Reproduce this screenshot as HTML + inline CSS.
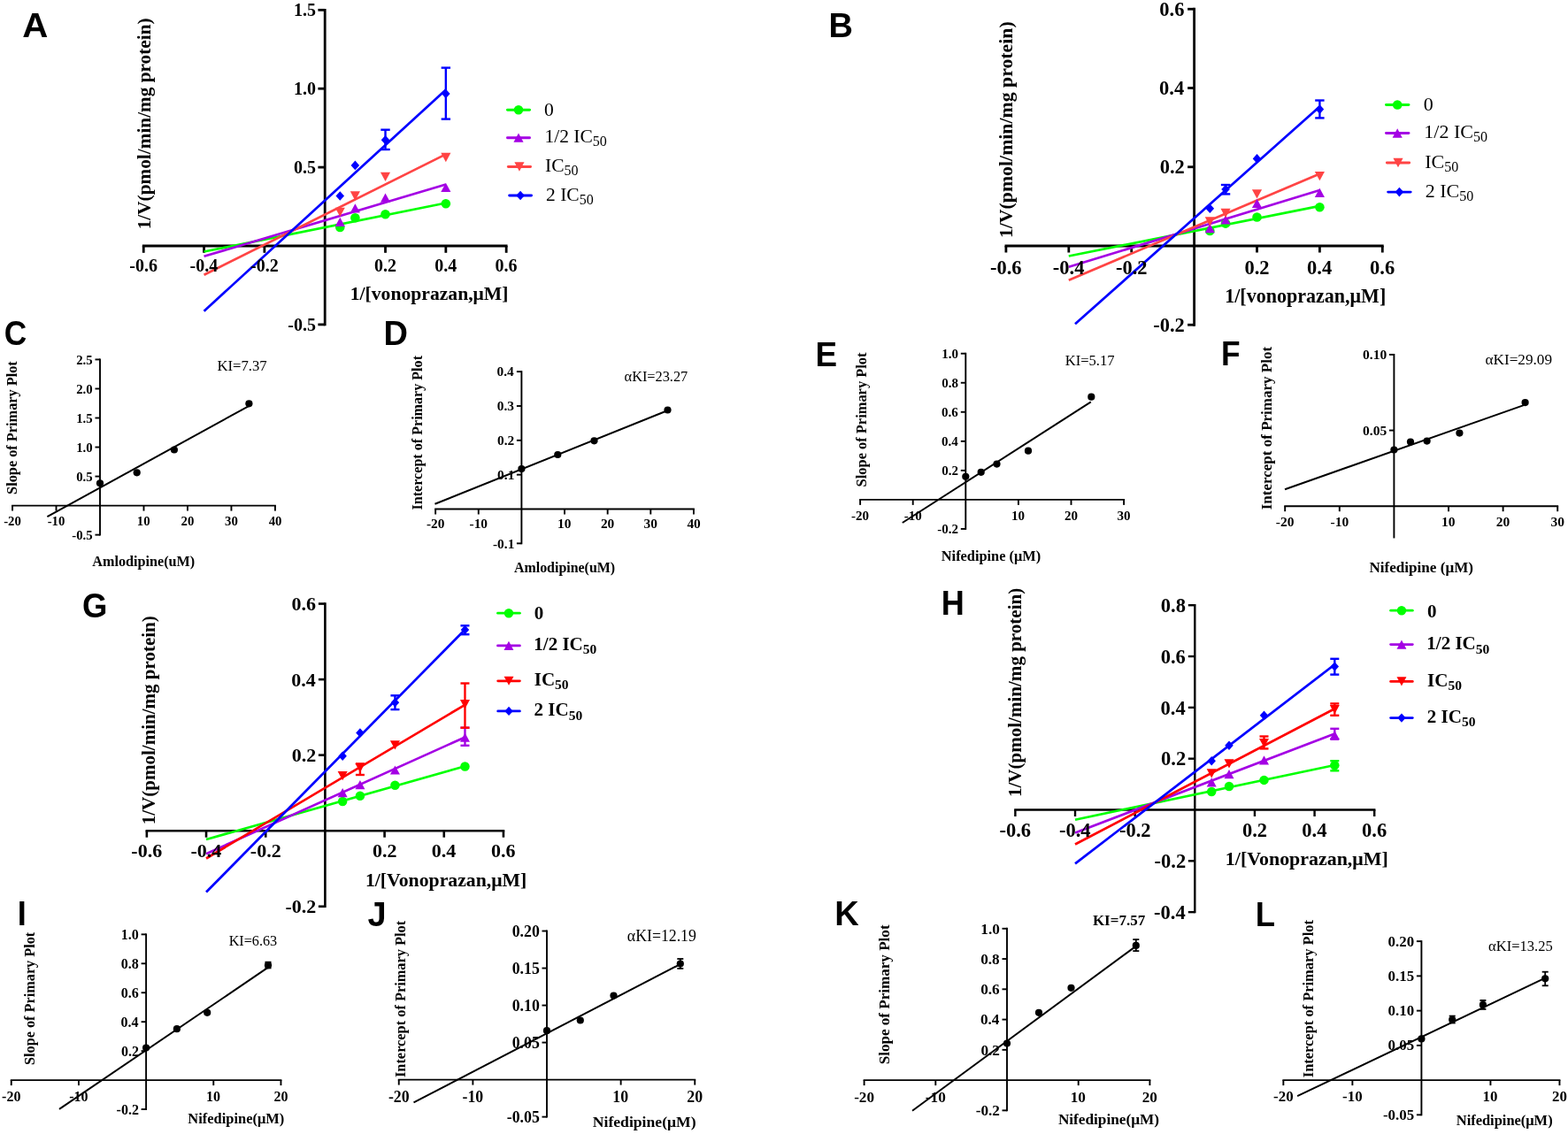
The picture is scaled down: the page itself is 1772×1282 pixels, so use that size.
<!DOCTYPE html>
<html><head><meta charset="utf-8"><title>Figure</title>
<style>html,body{margin:0;padding:0;background:#fff;}svg{display:block;}</style>
</head><body>
<svg width="1772" height="1282" viewBox="0 0 1772 1282">
<rect width="1772" height="1282" fill="#fff"/>
<line x1="160.84" y1="278" x2="573.56" y2="278" stroke="#000" stroke-width="2.8" stroke-linecap="butt"/>
<line x1="367.2" y1="368.3" x2="367.2" y2="9.9" stroke="#000" stroke-width="2.8" stroke-linecap="butt"/>
<line x1="162.24" y1="278" x2="162.24" y2="285.8" stroke="#000" stroke-width="2.8" stroke-linecap="butt"/>
<line x1="230.56" y1="278" x2="230.56" y2="285.8" stroke="#000" stroke-width="2.8" stroke-linecap="butt"/>
<line x1="298.88" y1="278" x2="298.88" y2="285.8" stroke="#000" stroke-width="2.8" stroke-linecap="butt"/>
<line x1="435.52" y1="278" x2="435.52" y2="285.8" stroke="#000" stroke-width="2.8" stroke-linecap="butt"/>
<line x1="503.84" y1="278" x2="503.84" y2="285.8" stroke="#000" stroke-width="2.8" stroke-linecap="butt"/>
<line x1="572.16" y1="278" x2="572.16" y2="285.8" stroke="#000" stroke-width="2.8" stroke-linecap="butt"/>
<line x1="359.4" y1="366.9" x2="367.2" y2="366.9" stroke="#000" stroke-width="2.8" stroke-linecap="butt"/>
<line x1="359.4" y1="189.1" x2="367.2" y2="189.1" stroke="#000" stroke-width="2.8" stroke-linecap="butt"/>
<line x1="359.4" y1="100.2" x2="367.2" y2="100.2" stroke="#000" stroke-width="2.8" stroke-linecap="butt"/>
<line x1="359.4" y1="11.3" x2="367.2" y2="11.3" stroke="#000" stroke-width="2.8" stroke-linecap="butt"/>
<line x1="230.56" y1="284.5" x2="503.84" y2="229.5" stroke="#00ff00" stroke-width="2.7" stroke-linecap="butt"/>
<line x1="230.56" y1="289.8" x2="503.84" y2="208.5" stroke="#a400e4" stroke-width="2.7" stroke-linecap="butt"/>
<line x1="230.56" y1="310.7" x2="503.84" y2="174.4" stroke="#ff4444" stroke-width="2.7" stroke-linecap="butt"/>
<line x1="230.56" y1="351.7" x2="503.84" y2="101.5" stroke="#0000ff" stroke-width="2.7" stroke-linecap="butt"/>
<circle cx="384.28" cy="256.9" r="5.3" fill="#00ff00"/>
<circle cx="401.36" cy="246.3" r="5.3" fill="#00ff00"/>
<circle cx="435.52" cy="242.2" r="5.3" fill="#00ff00"/>
<circle cx="503.84" cy="230.2" r="5.3" fill="#00ff00"/>
<path d="M384.28 245.76L389.84 256.04L378.71 256.04Z" fill="#a400e4"/>
<path d="M401.36 230.16L406.93 240.44L395.8 240.44Z" fill="#a400e4"/>
<path d="M435.52 218.56L441.08 228.84L429.95 228.84Z" fill="#a400e4"/>
<path d="M503.84 206.66L509.41 216.94L498.28 216.94Z" fill="#a400e4"/>
<path d="M384.28 245.04L389.84 234.76L378.71 234.76Z" fill="#ff4444"/>
<path d="M401.36 226.64L406.93 216.36L395.8 216.36Z" fill="#ff4444"/>
<path d="M435.52 205.04L441.08 194.76L429.95 194.76Z" fill="#ff4444"/>
<path d="M503.84 183.14L509.41 172.86L498.28 172.86Z" fill="#ff4444"/>
<path d="M384.28 216.2L389.05 221.5L384.28 226.8L379.51 221.5Z" fill="#0000ff"/>
<path d="M401.36 181.6L406.13 186.9L401.36 192.2L396.59 186.9Z" fill="#0000ff"/>
<path d="M435.52 152.9L440.29 158.2L435.52 163.5L430.75 158.2Z" fill="#0000ff"/>
<path d="M503.84 100.7L508.61 106L503.84 111.3L499.07 106Z" fill="#0000ff"/>
<line x1="435.52" y1="146.7" x2="435.52" y2="169" stroke="#0000ff" stroke-width="2.4" stroke-linecap="butt"/>
<line x1="430.32" y1="146.7" x2="440.72" y2="146.7" stroke="#0000ff" stroke-width="2.4" stroke-linecap="butt"/>
<line x1="430.32" y1="169" x2="440.72" y2="169" stroke="#0000ff" stroke-width="2.4" stroke-linecap="butt"/>
<line x1="503.84" y1="76.6" x2="503.84" y2="134.6" stroke="#0000ff" stroke-width="2.4" stroke-linecap="butt"/>
<line x1="498.64" y1="76.6" x2="509.04" y2="76.6" stroke="#0000ff" stroke-width="2.4" stroke-linecap="butt"/>
<line x1="498.64" y1="134.6" x2="509.04" y2="134.6" stroke="#0000ff" stroke-width="2.4" stroke-linecap="butt"/>
<line x1="573.45" y1="124.2" x2="598.55" y2="124.2" stroke="#00ff00" stroke-width="2.9" stroke-linecap="round"/>
<circle cx="586" cy="124.2" r="5.3" fill="#00ff00"/>
<line x1="573.45" y1="155.7" x2="598.55" y2="155.7" stroke="#a400e4" stroke-width="2.9" stroke-linecap="round"/>
<path d="M586 150.56L591.57 160.84L580.43 160.84Z" fill="#a400e4"/>
<line x1="574.35" y1="188.5" x2="599.55" y2="188.5" stroke="#ff4444" stroke-width="2.9" stroke-linecap="round"/>
<path d="M586.95 193.64L592.52 183.36L581.38 183.36Z" fill="#ff4444"/>
<line x1="575.65" y1="221" x2="600.55" y2="221" stroke="#0000ff" stroke-width="2.9" stroke-linecap="round"/>
<path d="M588.1 215.7L592.87 221L588.1 226.3L583.33 221Z" fill="#0000ff"/>
<line x1="1135.5" y1="278" x2="1563.7" y2="278" stroke="#000" stroke-width="2.8" stroke-linecap="butt"/>
<line x1="1349.6" y1="368.65" x2="1349.6" y2="8.85" stroke="#000" stroke-width="2.8" stroke-linecap="butt"/>
<line x1="1136.9" y1="278" x2="1136.9" y2="285.5" stroke="#000" stroke-width="2.8" stroke-linecap="butt"/>
<line x1="1207.8" y1="278" x2="1207.8" y2="285.5" stroke="#000" stroke-width="2.8" stroke-linecap="butt"/>
<line x1="1278.7" y1="278" x2="1278.7" y2="285.5" stroke="#000" stroke-width="2.8" stroke-linecap="butt"/>
<line x1="1420.5" y1="278" x2="1420.5" y2="285.5" stroke="#000" stroke-width="2.8" stroke-linecap="butt"/>
<line x1="1491.4" y1="278" x2="1491.4" y2="285.5" stroke="#000" stroke-width="2.8" stroke-linecap="butt"/>
<line x1="1562.3" y1="278" x2="1562.3" y2="285.5" stroke="#000" stroke-width="2.8" stroke-linecap="butt"/>
<line x1="1342.1" y1="367.25" x2="1349.6" y2="367.25" stroke="#000" stroke-width="2.8" stroke-linecap="butt"/>
<line x1="1342.1" y1="188.75" x2="1349.6" y2="188.75" stroke="#000" stroke-width="2.8" stroke-linecap="butt"/>
<line x1="1342.1" y1="99.5" x2="1349.6" y2="99.5" stroke="#000" stroke-width="2.8" stroke-linecap="butt"/>
<line x1="1342.1" y1="10.25" x2="1349.6" y2="10.25" stroke="#000" stroke-width="2.8" stroke-linecap="butt"/>
<line x1="1207.8" y1="289.5" x2="1491.4" y2="232.9" stroke="#00ff00" stroke-width="2.7" stroke-linecap="butt"/>
<line x1="1207.8" y1="301.8" x2="1491.4" y2="215" stroke="#a400e4" stroke-width="2.7" stroke-linecap="butt"/>
<line x1="1207.8" y1="316.8" x2="1491.4" y2="196.4" stroke="#ff4444" stroke-width="2.7" stroke-linecap="butt"/>
<line x1="1215" y1="366.3" x2="1491.4" y2="120.6" stroke="#0000ff" stroke-width="2.7" stroke-linecap="butt"/>
<circle cx="1367.32" cy="260.9" r="5.3" fill="#00ff00"/>
<circle cx="1385.05" cy="252.6" r="5.3" fill="#00ff00"/>
<circle cx="1420.5" cy="245.5" r="5.3" fill="#00ff00"/>
<circle cx="1491.4" cy="234.2" r="5.3" fill="#00ff00"/>
<path d="M1367.32 252.86L1372.89 263.14L1361.76 263.14Z" fill="#a400e4"/>
<path d="M1385.05 243.26L1390.62 253.54L1379.48 253.54Z" fill="#a400e4"/>
<path d="M1420.5 224.66L1426.07 234.94L1414.93 234.94Z" fill="#a400e4"/>
<path d="M1491.4 212.76L1496.96 223.04L1485.83 223.04Z" fill="#a400e4"/>
<path d="M1367.32 255.64L1372.89 245.36L1361.76 245.36Z" fill="#ff4444"/>
<path d="M1385.05 246.14L1390.62 235.86L1379.48 235.86Z" fill="#ff4444"/>
<path d="M1420.5 224.44L1426.07 214.16L1414.93 214.16Z" fill="#ff4444"/>
<path d="M1491.4 204.34L1496.96 194.06L1485.83 194.06Z" fill="#ff4444"/>
<path d="M1367.32 230.4L1372.09 235.7L1367.32 241L1362.55 235.7Z" fill="#0000ff"/>
<path d="M1385.05 208.7L1389.82 214L1385.05 219.3L1380.28 214Z" fill="#0000ff"/>
<path d="M1420.5 174.1L1425.27 179.4L1420.5 184.7L1415.73 179.4Z" fill="#0000ff"/>
<path d="M1491.4 118.3L1496.17 123.6L1491.4 128.9L1486.63 123.6Z" fill="#0000ff"/>
<line x1="1385.05" y1="209" x2="1385.05" y2="219.4" stroke="#0000ff" stroke-width="2.4" stroke-linecap="butt"/>
<line x1="1379.85" y1="209" x2="1390.25" y2="209" stroke="#0000ff" stroke-width="2.4" stroke-linecap="butt"/>
<line x1="1379.85" y1="219.4" x2="1390.25" y2="219.4" stroke="#0000ff" stroke-width="2.4" stroke-linecap="butt"/>
<line x1="1491.4" y1="113.5" x2="1491.4" y2="133.4" stroke="#0000ff" stroke-width="2.4" stroke-linecap="butt"/>
<line x1="1486.2" y1="113.5" x2="1496.6" y2="113.5" stroke="#0000ff" stroke-width="2.4" stroke-linecap="butt"/>
<line x1="1486.2" y1="133.4" x2="1496.6" y2="133.4" stroke="#0000ff" stroke-width="2.4" stroke-linecap="butt"/>
<line x1="1566.45" y1="118.5" x2="1591.95" y2="118.5" stroke="#00ff00" stroke-width="2.9" stroke-linecap="round"/>
<circle cx="1579.2" cy="118.5" r="5.3" fill="#00ff00"/>
<line x1="1566.45" y1="150.5" x2="1591.95" y2="150.5" stroke="#a400e4" stroke-width="2.9" stroke-linecap="round"/>
<path d="M1579.2 145.36L1584.77 155.64L1573.63 155.64Z" fill="#a400e4"/>
<line x1="1567.35" y1="184" x2="1592.65" y2="184" stroke="#ff4444" stroke-width="2.9" stroke-linecap="round"/>
<path d="M1580 189.14L1585.57 178.86L1574.43 178.86Z" fill="#ff4444"/>
<line x1="1568.65" y1="217.1" x2="1594.15" y2="217.1" stroke="#0000ff" stroke-width="2.9" stroke-linecap="round"/>
<path d="M1581.4 211.8L1586.17 217.1L1581.4 222.4L1576.63 217.1Z" fill="#0000ff"/>
<line x1="164.56" y1="939.2" x2="570.24" y2="939.2" stroke="#000" stroke-width="2.6" stroke-linecap="butt"/>
<line x1="367.4" y1="1026.05" x2="367.4" y2="681.25" stroke="#000" stroke-width="2.6" stroke-linecap="butt"/>
<line x1="165.86" y1="939.2" x2="165.86" y2="946.7" stroke="#000" stroke-width="2.6" stroke-linecap="butt"/>
<line x1="233.04" y1="939.2" x2="233.04" y2="946.7" stroke="#000" stroke-width="2.6" stroke-linecap="butt"/>
<line x1="300.22" y1="939.2" x2="300.22" y2="946.7" stroke="#000" stroke-width="2.6" stroke-linecap="butt"/>
<line x1="434.58" y1="939.2" x2="434.58" y2="946.7" stroke="#000" stroke-width="2.6" stroke-linecap="butt"/>
<line x1="501.76" y1="939.2" x2="501.76" y2="946.7" stroke="#000" stroke-width="2.6" stroke-linecap="butt"/>
<line x1="568.94" y1="939.2" x2="568.94" y2="946.7" stroke="#000" stroke-width="2.6" stroke-linecap="butt"/>
<line x1="359.9" y1="1024.75" x2="367.4" y2="1024.75" stroke="#000" stroke-width="2.6" stroke-linecap="butt"/>
<line x1="359.9" y1="853.65" x2="367.4" y2="853.65" stroke="#000" stroke-width="2.6" stroke-linecap="butt"/>
<line x1="359.9" y1="768.1" x2="367.4" y2="768.1" stroke="#000" stroke-width="2.6" stroke-linecap="butt"/>
<line x1="359.9" y1="682.55" x2="367.4" y2="682.55" stroke="#000" stroke-width="2.6" stroke-linecap="butt"/>
<line x1="233.04" y1="949" x2="525.47" y2="866.2" stroke="#00ff00" stroke-width="2.7" stroke-linecap="butt"/>
<line x1="233.04" y1="965.3" x2="525.47" y2="833.4" stroke="#a400e4" stroke-width="2.7" stroke-linecap="butt"/>
<line x1="233.04" y1="970.5" x2="525.47" y2="796.8" stroke="#ff0000" stroke-width="2.7" stroke-linecap="butt"/>
<line x1="233.04" y1="1008.5" x2="525.47" y2="711.8" stroke="#0000ff" stroke-width="2.7" stroke-linecap="butt"/>
<circle cx="387.16" cy="906" r="5.25" fill="#00ff00"/>
<circle cx="406.92" cy="899.7" r="5.25" fill="#00ff00"/>
<circle cx="446.44" cy="887.8" r="5.25" fill="#00ff00"/>
<circle cx="525.47" cy="866.5" r="5.25" fill="#00ff00"/>
<path d="M387.16 891.01L392.67 901.19L381.65 901.19Z" fill="#a400e4"/>
<path d="M406.92 882.01L412.43 892.19L401.41 892.19Z" fill="#a400e4"/>
<path d="M446.44 865.41L451.95 875.59L440.92 875.59Z" fill="#a400e4"/>
<path d="M525.47 828.61L530.98 838.79L519.96 838.79Z" fill="#a400e4"/>
<line x1="525.47" y1="822.7" x2="525.47" y2="842.8" stroke="#a400e4" stroke-width="2.4" stroke-linecap="butt"/>
<line x1="520.47" y1="822.7" x2="530.47" y2="822.7" stroke="#a400e4" stroke-width="2.4" stroke-linecap="butt"/>
<line x1="520.47" y1="842.8" x2="530.47" y2="842.8" stroke="#a400e4" stroke-width="2.4" stroke-linecap="butt"/>
<path d="M387.16 882.29L392.67 872.11L381.65 872.11Z" fill="#ff0000"/>
<path d="M406.92 873.19L412.43 863.01L401.41 863.01Z" fill="#ff0000"/>
<path d="M446.44 847.49L451.95 837.31L440.92 837.31Z" fill="#ff0000"/>
<path d="M525.47 801.29L530.98 791.11L519.96 791.11Z" fill="#ff0000"/>
<line x1="406.92" y1="863.4" x2="406.92" y2="876" stroke="#ff0000" stroke-width="2.4" stroke-linecap="butt"/>
<line x1="401.92" y1="863.4" x2="411.92" y2="863.4" stroke="#ff0000" stroke-width="2.4" stroke-linecap="butt"/>
<line x1="401.92" y1="876" x2="411.92" y2="876" stroke="#ff0000" stroke-width="2.4" stroke-linecap="butt"/>
<line x1="525.47" y1="772.5" x2="525.47" y2="822.7" stroke="#ff0000" stroke-width="2.4" stroke-linecap="butt"/>
<line x1="520.47" y1="772.5" x2="530.47" y2="772.5" stroke="#ff0000" stroke-width="2.4" stroke-linecap="butt"/>
<line x1="520.47" y1="822.7" x2="530.47" y2="822.7" stroke="#ff0000" stroke-width="2.4" stroke-linecap="butt"/>
<path d="M387.16 849.45L391.88 854.7L387.16 859.95L382.43 854.7Z" fill="#0000ff"/>
<path d="M406.92 823.35L411.64 828.6L406.92 833.85L402.19 828.6Z" fill="#0000ff"/>
<path d="M446.44 788.95L451.16 794.2L446.44 799.45L441.71 794.2Z" fill="#0000ff"/>
<path d="M525.47 706.75L530.2 712L525.47 717.25L520.75 712Z" fill="#0000ff"/>
<line x1="446.44" y1="786.3" x2="446.44" y2="802.1" stroke="#0000ff" stroke-width="2.4" stroke-linecap="butt"/>
<line x1="441.44" y1="786.3" x2="451.44" y2="786.3" stroke="#0000ff" stroke-width="2.4" stroke-linecap="butt"/>
<line x1="441.44" y1="802.1" x2="451.44" y2="802.1" stroke="#0000ff" stroke-width="2.4" stroke-linecap="butt"/>
<line x1="525.47" y1="707.3" x2="525.47" y2="717.2" stroke="#0000ff" stroke-width="2.4" stroke-linecap="butt"/>
<line x1="520.47" y1="707.3" x2="530.47" y2="707.3" stroke="#0000ff" stroke-width="2.4" stroke-linecap="butt"/>
<line x1="520.47" y1="717.2" x2="530.47" y2="717.2" stroke="#0000ff" stroke-width="2.4" stroke-linecap="butt"/>
<line x1="562.5" y1="693.2" x2="587.4" y2="693.2" stroke="#00ff00" stroke-width="2.8" stroke-linecap="round"/>
<circle cx="574.95" cy="693.2" r="5.2" fill="#00ff00"/>
<line x1="562.5" y1="729.9" x2="587.4" y2="729.9" stroke="#a400e4" stroke-width="2.8" stroke-linecap="round"/>
<path d="M574.95 724.86L580.41 734.94L569.49 734.94Z" fill="#a400e4"/>
<line x1="562.7" y1="769.8" x2="587.4" y2="769.8" stroke="#ff0000" stroke-width="2.8" stroke-linecap="round"/>
<path d="M575.05 774.84L580.51 764.76L569.59 764.76Z" fill="#ff0000"/>
<line x1="562.7" y1="803.9" x2="587.4" y2="803.9" stroke="#0000ff" stroke-width="2.8" stroke-linecap="round"/>
<path d="M575.05 798.7L579.73 803.9L575.05 809.1L570.37 803.9Z" fill="#0000ff"/>
<line x1="1146.18" y1="915.5" x2="1554.42" y2="915.5" stroke="#000" stroke-width="2.4" stroke-linecap="butt"/>
<line x1="1350.3" y1="1032.34" x2="1350.3" y2="683.02" stroke="#000" stroke-width="2.4" stroke-linecap="butt"/>
<line x1="1147.38" y1="915.5" x2="1147.38" y2="923" stroke="#000" stroke-width="2.4" stroke-linecap="butt"/>
<line x1="1215.02" y1="915.5" x2="1215.02" y2="923" stroke="#000" stroke-width="2.4" stroke-linecap="butt"/>
<line x1="1282.66" y1="915.5" x2="1282.66" y2="923" stroke="#000" stroke-width="2.4" stroke-linecap="butt"/>
<line x1="1417.94" y1="915.5" x2="1417.94" y2="923" stroke="#000" stroke-width="2.4" stroke-linecap="butt"/>
<line x1="1485.58" y1="915.5" x2="1485.58" y2="923" stroke="#000" stroke-width="2.4" stroke-linecap="butt"/>
<line x1="1553.22" y1="915.5" x2="1553.22" y2="923" stroke="#000" stroke-width="2.4" stroke-linecap="butt"/>
<line x1="1342.8" y1="1031.14" x2="1350.3" y2="1031.14" stroke="#000" stroke-width="2.4" stroke-linecap="butt"/>
<line x1="1342.8" y1="973.32" x2="1350.3" y2="973.32" stroke="#000" stroke-width="2.4" stroke-linecap="butt"/>
<line x1="1342.8" y1="857.68" x2="1350.3" y2="857.68" stroke="#000" stroke-width="2.4" stroke-linecap="butt"/>
<line x1="1342.8" y1="799.86" x2="1350.3" y2="799.86" stroke="#000" stroke-width="2.4" stroke-linecap="butt"/>
<line x1="1342.8" y1="742.04" x2="1350.3" y2="742.04" stroke="#000" stroke-width="2.4" stroke-linecap="butt"/>
<line x1="1342.8" y1="684.22" x2="1350.3" y2="684.22" stroke="#000" stroke-width="2.4" stroke-linecap="butt"/>
<line x1="1215.02" y1="926.7" x2="1508.3" y2="865" stroke="#00ff00" stroke-width="2.7" stroke-linecap="butt"/>
<line x1="1215.02" y1="941.5" x2="1508.3" y2="829.5" stroke="#a400e4" stroke-width="2.7" stroke-linecap="butt"/>
<line x1="1215.02" y1="954.5" x2="1508.3" y2="801.2" stroke="#ff0000" stroke-width="2.7" stroke-linecap="butt"/>
<line x1="1215.02" y1="976.4" x2="1508.3" y2="751.3" stroke="#0000ff" stroke-width="2.7" stroke-linecap="butt"/>
<circle cx="1369.2" cy="895" r="5.25" fill="#00ff00"/>
<circle cx="1389" cy="889" r="5.25" fill="#00ff00"/>
<circle cx="1428.5" cy="881.9" r="5.25" fill="#00ff00"/>
<circle cx="1508.3" cy="865.3" r="5.25" fill="#00ff00"/>
<line x1="1508.3" y1="860.2" x2="1508.3" y2="871.3" stroke="#00ff00" stroke-width="2.4" stroke-linecap="butt"/>
<line x1="1503.3" y1="860.2" x2="1513.3" y2="860.2" stroke="#00ff00" stroke-width="2.4" stroke-linecap="butt"/>
<line x1="1503.3" y1="871.3" x2="1513.3" y2="871.3" stroke="#00ff00" stroke-width="2.4" stroke-linecap="butt"/>
<path d="M1369.2 879.21L1374.71 889.39L1363.69 889.39Z" fill="#a400e4"/>
<path d="M1389 870.11L1394.51 880.29L1383.49 880.29Z" fill="#a400e4"/>
<path d="M1428.5 854.31L1434.01 864.49L1422.99 864.49Z" fill="#a400e4"/>
<path d="M1508.3 825.91L1513.81 836.09L1502.79 836.09Z" fill="#a400e4"/>
<line x1="1508.3" y1="823.8" x2="1508.3" y2="835.7" stroke="#a400e4" stroke-width="2.4" stroke-linecap="butt"/>
<line x1="1503.3" y1="823.8" x2="1513.3" y2="823.8" stroke="#a400e4" stroke-width="2.4" stroke-linecap="butt"/>
<line x1="1503.3" y1="835.7" x2="1513.3" y2="835.7" stroke="#a400e4" stroke-width="2.4" stroke-linecap="butt"/>
<path d="M1369.2 879.49L1374.71 869.31L1363.69 869.31Z" fill="#ff0000"/>
<path d="M1389 868.49L1394.51 858.31L1383.49 858.31Z" fill="#ff0000"/>
<path d="M1428.5 845.09L1434.01 834.91L1422.99 834.91Z" fill="#ff0000"/>
<path d="M1508.3 807.19L1513.81 797.01L1502.79 797.01Z" fill="#ff0000"/>
<line x1="1428.5" y1="832.5" x2="1428.5" y2="846.4" stroke="#ff0000" stroke-width="2.4" stroke-linecap="butt"/>
<line x1="1423.5" y1="832.5" x2="1433.5" y2="832.5" stroke="#ff0000" stroke-width="2.4" stroke-linecap="butt"/>
<line x1="1423.5" y1="846.4" x2="1433.5" y2="846.4" stroke="#ff0000" stroke-width="2.4" stroke-linecap="butt"/>
<line x1="1508.3" y1="795.4" x2="1508.3" y2="808.8" stroke="#ff0000" stroke-width="2.4" stroke-linecap="butt"/>
<line x1="1503.3" y1="795.4" x2="1513.3" y2="795.4" stroke="#ff0000" stroke-width="2.4" stroke-linecap="butt"/>
<line x1="1503.3" y1="808.8" x2="1513.3" y2="808.8" stroke="#ff0000" stroke-width="2.4" stroke-linecap="butt"/>
<path d="M1369.2 854.95L1373.92 860.2L1369.2 865.45L1364.48 860.2Z" fill="#0000ff"/>
<path d="M1389 837.55L1393.72 842.8L1389 848.05L1384.28 842.8Z" fill="#0000ff"/>
<path d="M1428.5 803.55L1433.22 808.8L1428.5 814.05L1423.78 808.8Z" fill="#0000ff"/>
<path d="M1508.3 748.25L1513.02 753.5L1508.3 758.75L1503.58 753.5Z" fill="#0000ff"/>
<line x1="1508.3" y1="744.8" x2="1508.3" y2="762.6" stroke="#0000ff" stroke-width="2.4" stroke-linecap="butt"/>
<line x1="1503.3" y1="744.8" x2="1513.3" y2="744.8" stroke="#0000ff" stroke-width="2.4" stroke-linecap="butt"/>
<line x1="1503.3" y1="762.6" x2="1513.3" y2="762.6" stroke="#0000ff" stroke-width="2.4" stroke-linecap="butt"/>
<line x1="1571.6" y1="690.2" x2="1596.3" y2="690.2" stroke="#00ff00" stroke-width="2.8" stroke-linecap="round"/>
<circle cx="1583.95" cy="690.2" r="5.2" fill="#00ff00"/>
<line x1="1571.6" y1="728.6" x2="1596.3" y2="728.6" stroke="#a400e4" stroke-width="2.8" stroke-linecap="round"/>
<path d="M1583.95 723.56L1589.41 733.64L1578.49 733.64Z" fill="#a400e4"/>
<line x1="1571.6" y1="770.4" x2="1596.3" y2="770.4" stroke="#ff0000" stroke-width="2.8" stroke-linecap="round"/>
<path d="M1583.95 775.44L1589.41 765.36L1578.49 765.36Z" fill="#ff0000"/>
<line x1="1571.6" y1="811.6" x2="1596.3" y2="811.6" stroke="#0000ff" stroke-width="2.8" stroke-linecap="round"/>
<path d="M1583.95 806.4L1588.63 811.6L1583.95 816.8L1579.27 811.6Z" fill="#0000ff"/>
<line x1="13.09" y1="571.6" x2="311.87" y2="571.6" stroke="#000" stroke-width="1.9" stroke-linecap="butt"/>
<line x1="113" y1="605.59" x2="113" y2="405.48" stroke="#000" stroke-width="1.9" stroke-linecap="butt"/>
<line x1="14.04" y1="571.6" x2="14.04" y2="577.6" stroke="#000" stroke-width="1.9" stroke-linecap="butt"/>
<line x1="63.52" y1="571.6" x2="63.52" y2="577.6" stroke="#000" stroke-width="1.9" stroke-linecap="butt"/>
<line x1="162.48" y1="571.6" x2="162.48" y2="577.6" stroke="#000" stroke-width="1.9" stroke-linecap="butt"/>
<line x1="211.96" y1="571.6" x2="211.96" y2="577.6" stroke="#000" stroke-width="1.9" stroke-linecap="butt"/>
<line x1="261.44" y1="571.6" x2="261.44" y2="577.6" stroke="#000" stroke-width="1.9" stroke-linecap="butt"/>
<line x1="310.92" y1="571.6" x2="310.92" y2="577.6" stroke="#000" stroke-width="1.9" stroke-linecap="butt"/>
<line x1="107.5" y1="604.63" x2="113" y2="604.63" stroke="#000" stroke-width="1.9" stroke-linecap="butt"/>
<line x1="107.5" y1="538.57" x2="113" y2="538.57" stroke="#000" stroke-width="1.9" stroke-linecap="butt"/>
<line x1="107.5" y1="505.53" x2="113" y2="505.53" stroke="#000" stroke-width="1.9" stroke-linecap="butt"/>
<line x1="107.5" y1="472.5" x2="113" y2="472.5" stroke="#000" stroke-width="1.9" stroke-linecap="butt"/>
<line x1="107.5" y1="439.46" x2="113" y2="439.46" stroke="#000" stroke-width="1.9" stroke-linecap="butt"/>
<line x1="107.5" y1="406.43" x2="113" y2="406.43" stroke="#000" stroke-width="1.9" stroke-linecap="butt"/>
<line x1="53.4" y1="584.2" x2="280.6" y2="459.3" stroke="#000" stroke-width="2" stroke-linecap="butt"/>
<circle cx="113" cy="546.3" r="4.1" fill="#000"/>
<circle cx="154.7" cy="534.3" r="4.1" fill="#000"/>
<circle cx="196.9" cy="508.5" r="4.1" fill="#000"/>
<circle cx="281.4" cy="456.3" r="4.1" fill="#000"/>
<line x1="491.19" y1="575.5" x2="784.87" y2="575.5" stroke="#000" stroke-width="1.9" stroke-linecap="butt"/>
<line x1="589.4" y1="615.29" x2="589.4" y2="419.19" stroke="#000" stroke-width="1.9" stroke-linecap="butt"/>
<line x1="492.14" y1="575.5" x2="492.14" y2="581.5" stroke="#000" stroke-width="1.9" stroke-linecap="butt"/>
<line x1="540.77" y1="575.5" x2="540.77" y2="581.5" stroke="#000" stroke-width="1.9" stroke-linecap="butt"/>
<line x1="638.03" y1="575.5" x2="638.03" y2="581.5" stroke="#000" stroke-width="1.9" stroke-linecap="butt"/>
<line x1="686.66" y1="575.5" x2="686.66" y2="581.5" stroke="#000" stroke-width="1.9" stroke-linecap="butt"/>
<line x1="735.29" y1="575.5" x2="735.29" y2="581.5" stroke="#000" stroke-width="1.9" stroke-linecap="butt"/>
<line x1="783.92" y1="575.5" x2="783.92" y2="581.5" stroke="#000" stroke-width="1.9" stroke-linecap="butt"/>
<line x1="583.9" y1="614.34" x2="589.4" y2="614.34" stroke="#000" stroke-width="1.9" stroke-linecap="butt"/>
<line x1="583.9" y1="536.66" x2="589.4" y2="536.66" stroke="#000" stroke-width="1.9" stroke-linecap="butt"/>
<line x1="583.9" y1="497.82" x2="589.4" y2="497.82" stroke="#000" stroke-width="1.9" stroke-linecap="butt"/>
<line x1="583.9" y1="458.98" x2="589.4" y2="458.98" stroke="#000" stroke-width="1.9" stroke-linecap="butt"/>
<line x1="583.9" y1="420.14" x2="589.4" y2="420.14" stroke="#000" stroke-width="1.9" stroke-linecap="butt"/>
<line x1="491.5" y1="569.8" x2="754" y2="464.3" stroke="#000" stroke-width="2" stroke-linecap="butt"/>
<circle cx="589.4" cy="530.1" r="4.1" fill="#000"/>
<circle cx="630.3" cy="514" r="4.1" fill="#000"/>
<circle cx="671.5" cy="498.3" r="4.1" fill="#000"/>
<circle cx="754.5" cy="463.5" r="4.1" fill="#000"/>
<line x1="971.15" y1="564.9" x2="1271.05" y2="564.9" stroke="#000" stroke-width="1.9" stroke-linecap="butt"/>
<line x1="1091.3" y1="598.89" x2="1091.3" y2="398.75" stroke="#000" stroke-width="1.9" stroke-linecap="butt"/>
<line x1="972.1" y1="564.9" x2="972.1" y2="570.9" stroke="#000" stroke-width="1.9" stroke-linecap="butt"/>
<line x1="1031.7" y1="564.9" x2="1031.7" y2="570.9" stroke="#000" stroke-width="1.9" stroke-linecap="butt"/>
<line x1="1150.9" y1="564.9" x2="1150.9" y2="570.9" stroke="#000" stroke-width="1.9" stroke-linecap="butt"/>
<line x1="1210.5" y1="564.9" x2="1210.5" y2="570.9" stroke="#000" stroke-width="1.9" stroke-linecap="butt"/>
<line x1="1270.1" y1="564.9" x2="1270.1" y2="570.9" stroke="#000" stroke-width="1.9" stroke-linecap="butt"/>
<line x1="1085.8" y1="597.94" x2="1091.3" y2="597.94" stroke="#000" stroke-width="1.9" stroke-linecap="butt"/>
<line x1="1085.8" y1="531.86" x2="1091.3" y2="531.86" stroke="#000" stroke-width="1.9" stroke-linecap="butt"/>
<line x1="1085.8" y1="498.82" x2="1091.3" y2="498.82" stroke="#000" stroke-width="1.9" stroke-linecap="butt"/>
<line x1="1085.8" y1="465.78" x2="1091.3" y2="465.78" stroke="#000" stroke-width="1.9" stroke-linecap="butt"/>
<line x1="1085.8" y1="432.74" x2="1091.3" y2="432.74" stroke="#000" stroke-width="1.9" stroke-linecap="butt"/>
<line x1="1085.8" y1="399.7" x2="1091.3" y2="399.7" stroke="#000" stroke-width="1.9" stroke-linecap="butt"/>
<line x1="1019.8" y1="591" x2="1232.8" y2="454.4" stroke="#000" stroke-width="2" stroke-linecap="butt"/>
<circle cx="1091.3" cy="538.8" r="4.1" fill="#000"/>
<circle cx="1108.7" cy="533.8" r="4.1" fill="#000"/>
<circle cx="1126.5" cy="524.6" r="4.1" fill="#000"/>
<circle cx="1162" cy="509.7" r="4.1" fill="#000"/>
<circle cx="1233.3" cy="448.7" r="4.1" fill="#000"/>
<line x1="1451.25" y1="572.2" x2="1761.15" y2="572.2" stroke="#000" stroke-width="1.9" stroke-linecap="butt"/>
<line x1="1575.4" y1="608.44" x2="1575.4" y2="399.95" stroke="#000" stroke-width="1.9" stroke-linecap="butt"/>
<line x1="1452.2" y1="572.2" x2="1452.2" y2="578.2" stroke="#000" stroke-width="1.9" stroke-linecap="butt"/>
<line x1="1513.8" y1="572.2" x2="1513.8" y2="578.2" stroke="#000" stroke-width="1.9" stroke-linecap="butt"/>
<line x1="1637" y1="572.2" x2="1637" y2="578.2" stroke="#000" stroke-width="1.9" stroke-linecap="butt"/>
<line x1="1698.6" y1="572.2" x2="1698.6" y2="578.2" stroke="#000" stroke-width="1.9" stroke-linecap="butt"/>
<line x1="1760.2" y1="572.2" x2="1760.2" y2="578.2" stroke="#000" stroke-width="1.9" stroke-linecap="butt"/>
<line x1="1569.9" y1="486.55" x2="1575.4" y2="486.55" stroke="#000" stroke-width="1.9" stroke-linecap="butt"/>
<line x1="1569.9" y1="400.9" x2="1575.4" y2="400.9" stroke="#000" stroke-width="1.9" stroke-linecap="butt"/>
<line x1="1452" y1="553.2" x2="1721.9" y2="458.1" stroke="#000" stroke-width="2" stroke-linecap="butt"/>
<circle cx="1575.4" cy="508.5" r="4.1" fill="#000"/>
<circle cx="1594" cy="499.6" r="4.1" fill="#000"/>
<circle cx="1612.6" cy="498.6" r="4.1" fill="#000"/>
<circle cx="1649.4" cy="489.6" r="4.1" fill="#000"/>
<circle cx="1723.6" cy="455.1" r="4.1" fill="#000"/>
<line x1="11.8" y1="1221.1" x2="318.4" y2="1221.1" stroke="#000" stroke-width="1.9" stroke-linecap="butt"/>
<line x1="165.1" y1="1255" x2="165.1" y2="1055.4" stroke="#000" stroke-width="1.9" stroke-linecap="butt"/>
<line x1="12.75" y1="1221.1" x2="12.75" y2="1227.1" stroke="#000" stroke-width="1.9" stroke-linecap="butt"/>
<line x1="88.92" y1="1221.1" x2="88.92" y2="1227.1" stroke="#000" stroke-width="1.9" stroke-linecap="butt"/>
<line x1="241.27" y1="1221.1" x2="241.27" y2="1227.1" stroke="#000" stroke-width="1.9" stroke-linecap="butt"/>
<line x1="317.45" y1="1221.1" x2="317.45" y2="1227.1" stroke="#000" stroke-width="1.9" stroke-linecap="butt"/>
<line x1="159.6" y1="1254.05" x2="165.1" y2="1254.05" stroke="#000" stroke-width="1.9" stroke-linecap="butt"/>
<line x1="159.6" y1="1188.15" x2="165.1" y2="1188.15" stroke="#000" stroke-width="1.9" stroke-linecap="butt"/>
<line x1="159.6" y1="1155.2" x2="165.1" y2="1155.2" stroke="#000" stroke-width="1.9" stroke-linecap="butt"/>
<line x1="159.6" y1="1122.25" x2="165.1" y2="1122.25" stroke="#000" stroke-width="1.9" stroke-linecap="butt"/>
<line x1="159.6" y1="1089.3" x2="165.1" y2="1089.3" stroke="#000" stroke-width="1.9" stroke-linecap="butt"/>
<line x1="159.6" y1="1056.35" x2="165.1" y2="1056.35" stroke="#000" stroke-width="1.9" stroke-linecap="butt"/>
<line x1="67" y1="1253.9" x2="303" y2="1093.7" stroke="#000" stroke-width="2" stroke-linecap="butt"/>
<circle cx="165.1" cy="1184.6" r="4.1" fill="#000"/>
<circle cx="199.9" cy="1163.2" r="4.1" fill="#000"/>
<circle cx="234.2" cy="1144.8" r="4.1" fill="#000"/>
<circle cx="303" cy="1091.2" r="4.1" fill="#000"/>
<line x1="303" y1="1087.7" x2="303" y2="1094.4" stroke="#000" stroke-width="1.8" stroke-linecap="butt"/>
<line x1="299.5" y1="1087.7" x2="306.5" y2="1087.7" stroke="#000" stroke-width="1.8" stroke-linecap="butt"/>
<line x1="299.5" y1="1094.4" x2="306.5" y2="1094.4" stroke="#000" stroke-width="1.8" stroke-linecap="butt"/>
<line x1="449.8" y1="1220.6" x2="786.2" y2="1220.6" stroke="#000" stroke-width="1.9" stroke-linecap="butt"/>
<line x1="618" y1="1263.57" x2="618" y2="1051.57" stroke="#000" stroke-width="1.9" stroke-linecap="butt"/>
<line x1="450.75" y1="1220.6" x2="450.75" y2="1226.6" stroke="#000" stroke-width="1.9" stroke-linecap="butt"/>
<line x1="534.38" y1="1220.6" x2="534.38" y2="1226.6" stroke="#000" stroke-width="1.9" stroke-linecap="butt"/>
<line x1="701.62" y1="1220.6" x2="701.62" y2="1226.6" stroke="#000" stroke-width="1.9" stroke-linecap="butt"/>
<line x1="785.25" y1="1220.6" x2="785.25" y2="1226.6" stroke="#000" stroke-width="1.9" stroke-linecap="butt"/>
<line x1="612.5" y1="1262.62" x2="618" y2="1262.62" stroke="#000" stroke-width="1.9" stroke-linecap="butt"/>
<line x1="612.5" y1="1178.58" x2="618" y2="1178.58" stroke="#000" stroke-width="1.9" stroke-linecap="butt"/>
<line x1="612.5" y1="1136.56" x2="618" y2="1136.56" stroke="#000" stroke-width="1.9" stroke-linecap="butt"/>
<line x1="612.5" y1="1094.54" x2="618" y2="1094.54" stroke="#000" stroke-width="1.9" stroke-linecap="butt"/>
<line x1="612.5" y1="1052.52" x2="618" y2="1052.52" stroke="#000" stroke-width="1.9" stroke-linecap="butt"/>
<line x1="467.5" y1="1246.4" x2="768.8" y2="1090" stroke="#000" stroke-width="2" stroke-linecap="butt"/>
<circle cx="618" cy="1165.2" r="4.1" fill="#000"/>
<circle cx="655.8" cy="1153.5" r="4.1" fill="#000"/>
<circle cx="693.5" cy="1125.5" r="4.1" fill="#000"/>
<circle cx="768.8" cy="1089.5" r="4.1" fill="#000"/>
<line x1="768.8" y1="1084" x2="768.8" y2="1094.9" stroke="#000" stroke-width="1.8" stroke-linecap="butt"/>
<line x1="765.3" y1="1084" x2="772.3" y2="1084" stroke="#000" stroke-width="1.8" stroke-linecap="butt"/>
<line x1="765.3" y1="1094.9" x2="772.3" y2="1094.9" stroke="#000" stroke-width="1.8" stroke-linecap="butt"/>
<line x1="975.65" y1="1221.1" x2="1300.35" y2="1221.1" stroke="#000" stroke-width="1.9" stroke-linecap="butt"/>
<line x1="1138" y1="1256.31" x2="1138" y2="1048.85" stroke="#000" stroke-width="1.9" stroke-linecap="butt"/>
<line x1="976.6" y1="1221.1" x2="976.6" y2="1227.1" stroke="#000" stroke-width="1.9" stroke-linecap="butt"/>
<line x1="1057.3" y1="1221.1" x2="1057.3" y2="1227.1" stroke="#000" stroke-width="1.9" stroke-linecap="butt"/>
<line x1="1218.7" y1="1221.1" x2="1218.7" y2="1227.1" stroke="#000" stroke-width="1.9" stroke-linecap="butt"/>
<line x1="1299.4" y1="1221.1" x2="1299.4" y2="1227.1" stroke="#000" stroke-width="1.9" stroke-linecap="butt"/>
<line x1="1132.5" y1="1255.36" x2="1138" y2="1255.36" stroke="#000" stroke-width="1.9" stroke-linecap="butt"/>
<line x1="1132.5" y1="1186.84" x2="1138" y2="1186.84" stroke="#000" stroke-width="1.9" stroke-linecap="butt"/>
<line x1="1132.5" y1="1152.58" x2="1138" y2="1152.58" stroke="#000" stroke-width="1.9" stroke-linecap="butt"/>
<line x1="1132.5" y1="1118.32" x2="1138" y2="1118.32" stroke="#000" stroke-width="1.9" stroke-linecap="butt"/>
<line x1="1132.5" y1="1084.06" x2="1138" y2="1084.06" stroke="#000" stroke-width="1.9" stroke-linecap="butt"/>
<line x1="1132.5" y1="1049.8" x2="1138" y2="1049.8" stroke="#000" stroke-width="1.9" stroke-linecap="butt"/>
<line x1="1031" y1="1255.8" x2="1283.8" y2="1069.6" stroke="#000" stroke-width="2" stroke-linecap="butt"/>
<circle cx="1138" cy="1179.6" r="4.1" fill="#000"/>
<circle cx="1174" cy="1144.8" r="4.1" fill="#000"/>
<circle cx="1210.5" cy="1116.8" r="4.1" fill="#000"/>
<circle cx="1283.8" cy="1068.9" r="4.1" fill="#000"/>
<line x1="1283.8" y1="1062.1" x2="1283.8" y2="1075.1" stroke="#000" stroke-width="1.8" stroke-linecap="butt"/>
<line x1="1280.3" y1="1062.1" x2="1287.3" y2="1062.1" stroke="#000" stroke-width="1.8" stroke-linecap="butt"/>
<line x1="1280.3" y1="1075.1" x2="1287.3" y2="1075.1" stroke="#000" stroke-width="1.8" stroke-linecap="butt"/>
<line x1="1449.4" y1="1221.1" x2="1763.4" y2="1221.1" stroke="#000" stroke-width="1.9" stroke-linecap="butt"/>
<line x1="1606.4" y1="1261.29" x2="1606.4" y2="1063.19" stroke="#000" stroke-width="1.9" stroke-linecap="butt"/>
<line x1="1450.35" y1="1221.1" x2="1450.35" y2="1227.1" stroke="#000" stroke-width="1.9" stroke-linecap="butt"/>
<line x1="1528.38" y1="1221.1" x2="1528.38" y2="1227.1" stroke="#000" stroke-width="1.9" stroke-linecap="butt"/>
<line x1="1684.43" y1="1221.1" x2="1684.43" y2="1227.1" stroke="#000" stroke-width="1.9" stroke-linecap="butt"/>
<line x1="1762.45" y1="1221.1" x2="1762.45" y2="1227.1" stroke="#000" stroke-width="1.9" stroke-linecap="butt"/>
<line x1="1600.9" y1="1260.34" x2="1606.4" y2="1260.34" stroke="#000" stroke-width="1.9" stroke-linecap="butt"/>
<line x1="1600.9" y1="1181.86" x2="1606.4" y2="1181.86" stroke="#000" stroke-width="1.9" stroke-linecap="butt"/>
<line x1="1600.9" y1="1142.62" x2="1606.4" y2="1142.62" stroke="#000" stroke-width="1.9" stroke-linecap="butt"/>
<line x1="1600.9" y1="1103.38" x2="1606.4" y2="1103.38" stroke="#000" stroke-width="1.9" stroke-linecap="butt"/>
<line x1="1600.9" y1="1064.14" x2="1606.4" y2="1064.14" stroke="#000" stroke-width="1.9" stroke-linecap="butt"/>
<line x1="1466.1" y1="1239.2" x2="1746.2" y2="1105.6" stroke="#000" stroke-width="2" stroke-linecap="butt"/>
<circle cx="1606.4" cy="1174.4" r="4.1" fill="#000"/>
<circle cx="1641.2" cy="1152.8" r="4.1" fill="#000"/>
<circle cx="1675.9" cy="1135.9" r="4.1" fill="#000"/>
<circle cx="1746.2" cy="1106.3" r="4.1" fill="#000"/>
<line x1="1641.2" y1="1148.6" x2="1641.2" y2="1156.5" stroke="#000" stroke-width="1.8" stroke-linecap="butt"/>
<line x1="1637.7" y1="1148.6" x2="1644.7" y2="1148.6" stroke="#000" stroke-width="1.8" stroke-linecap="butt"/>
<line x1="1637.7" y1="1156.5" x2="1644.7" y2="1156.5" stroke="#000" stroke-width="1.8" stroke-linecap="butt"/>
<line x1="1675.9" y1="1130.9" x2="1675.9" y2="1140.9" stroke="#000" stroke-width="1.8" stroke-linecap="butt"/>
<line x1="1672.4" y1="1130.9" x2="1679.4" y2="1130.9" stroke="#000" stroke-width="1.8" stroke-linecap="butt"/>
<line x1="1672.4" y1="1140.9" x2="1679.4" y2="1140.9" stroke="#000" stroke-width="1.8" stroke-linecap="butt"/>
<line x1="1746.2" y1="1098.7" x2="1746.2" y2="1114.3" stroke="#000" stroke-width="1.8" stroke-linecap="butt"/>
<line x1="1742.7" y1="1098.7" x2="1749.7" y2="1098.7" stroke="#000" stroke-width="1.8" stroke-linecap="butt"/>
<line x1="1742.7" y1="1114.3" x2="1749.7" y2="1114.3" stroke="#000" stroke-width="1.8" stroke-linecap="butt"/>
<text x="146.31" y="306.9" font-family='"Liberation Serif", serif' font-weight="bold" font-size="20" fill="#000">-0.6</text>
<text x="214.53" y="306.9" font-family='"Liberation Serif", serif' font-weight="bold" font-size="20" fill="#000">-0.4</text>
<text x="283.1" y="306.9" font-family='"Liberation Serif", serif' font-weight="bold" font-size="20" fill="#000">-0.2</text>
<text x="423.07" y="306.9" font-family='"Liberation Serif", serif' font-weight="bold" font-size="20" fill="#000">0.2</text>
<text x="491.14" y="306.9" font-family='"Liberation Serif", serif' font-weight="bold" font-size="20" fill="#000">0.4</text>
<text x="559.56" y="306.9" font-family='"Liberation Serif", serif' font-weight="bold" font-size="20" fill="#000">0.6</text>
<text x="325.24" y="373.9" font-family='"Liberation Serif", serif' font-weight="bold" font-size="20" fill="#000">-0.5</text>
<text x="331.9" y="196.1" font-family='"Liberation Serif", serif' font-weight="bold" font-size="20" fill="#000">0.5</text>
<text x="331.9" y="107.2" font-family='"Liberation Serif", serif' font-weight="bold" font-size="20" fill="#000">1.0</text>
<text x="331.9" y="18.3" font-family='"Liberation Serif", serif' font-weight="bold" font-size="20" fill="#000">1.5</text>
<text x="614.95" y="130.6" font-family='"Liberation Serif", serif' font-weight="normal" font-size="21.5" fill="#000">0</text>
<text x="615.47" y="160.7" font-family='"Liberation Serif", serif' font-weight="normal" font-size="21.5" fill="#000">1/2 IC<tspan font-size="16" dy="4.4">50</tspan></text>
<text x="616.05" y="193.8" font-family='"Liberation Serif", serif' font-weight="normal" font-size="21.5" fill="#000">IC<tspan font-size="16" dy="4.4">50</tspan></text>
<text x="617.04" y="226.6" font-family='"Liberation Serif", serif' font-weight="normal" font-size="21.5" fill="#000">2 IC<tspan font-size="16" dy="4.4">50</tspan></text>
<text x="395.73" y="339.19" font-family='"Liberation Serif", serif' font-weight="bold" font-size="21.65" fill="#000">1/[vonoprazan,μM]</text>
<text transform="translate(170.13 259.28) rotate(-90)" font-family='"Liberation Serif", serif' font-weight="bold" font-size="21.27" fill="#000">1/V(pmol/min/mg protein)</text>
<text transform="translate(25.19 42.02) scale(1.06 1)" font-family='"Liberation Sans", sans-serif' font-weight="bold" font-size="38" fill="#000">A</text>
<text x="1118.98" y="309.6" font-family='"Liberation Serif", serif' font-weight="bold" font-size="22.5" fill="#000">-0.6</text>
<text x="1189.77" y="309.6" font-family='"Liberation Serif", serif' font-weight="bold" font-size="22.5" fill="#000">-0.4</text>
<text x="1260.95" y="309.6" font-family='"Liberation Serif", serif' font-weight="bold" font-size="22.5" fill="#000">-0.2</text>
<text x="1406.49" y="309.6" font-family='"Liberation Serif", serif' font-weight="bold" font-size="22.5" fill="#000">0.2</text>
<text x="1477.11" y="309.6" font-family='"Liberation Serif", serif' font-weight="bold" font-size="22.5" fill="#000">0.4</text>
<text x="1548.12" y="309.6" font-family='"Liberation Serif", serif' font-weight="bold" font-size="22.5" fill="#000">0.6</text>
<text x="1303.18" y="374.85" font-family='"Liberation Serif", serif' font-weight="bold" font-size="22.5" fill="#000">-0.2</text>
<text x="1310.67" y="196.35" font-family='"Liberation Serif", serif' font-weight="bold" font-size="22.5" fill="#000">0.2</text>
<text x="1310.11" y="107.1" font-family='"Liberation Serif", serif' font-weight="bold" font-size="22.5" fill="#000">0.4</text>
<text x="1310.34" y="17.85" font-family='"Liberation Serif", serif' font-weight="bold" font-size="22.5" fill="#000">0.6</text>
<text x="1608.83" y="125" font-family='"Liberation Serif", serif' font-weight="normal" font-size="22" fill="#000">0</text>
<text x="1609.33" y="155.6" font-family='"Liberation Serif", serif' font-weight="normal" font-size="22" fill="#000">1/2 IC<tspan font-size="16" dy="4.4">50</tspan></text>
<text x="1610.13" y="189.5" font-family='"Liberation Serif", serif' font-weight="normal" font-size="22" fill="#000">IC<tspan font-size="16" dy="4.4">50</tspan></text>
<text x="1610.72" y="222.8" font-family='"Liberation Serif", serif' font-weight="normal" font-size="22" fill="#000">2 IC<tspan font-size="16" dy="4.4">50</tspan></text>
<text x="1384.22" y="341.69" font-family='"Liberation Serif", serif' font-weight="bold" font-size="22.04" fill="#000">1/[vonoprazan,μM]</text>
<text transform="translate(1143.54 269.11) rotate(-90)" font-family='"Liberation Serif", serif' font-weight="bold" font-size="21.8" fill="#000">1/V(pmol/min/mg protein)</text>
<text x="936.53" y="42.02" font-family='"Liberation Sans", sans-serif' font-weight="bold" font-size="38" fill="#000">B</text>
<text x="148.34" y="969.2" font-family='"Liberation Serif", serif' font-weight="bold" font-size="22" fill="#000">-0.6</text>
<text x="215.41" y="969.2" font-family='"Liberation Serif", serif' font-weight="bold" font-size="22" fill="#000">-0.4</text>
<text x="282.86" y="969.2" font-family='"Liberation Serif", serif' font-weight="bold" font-size="22" fill="#000">-0.2</text>
<text x="420.88" y="969.2" font-family='"Liberation Serif", serif' font-weight="bold" font-size="22" fill="#000">0.2</text>
<text x="487.79" y="969.2" font-family='"Liberation Serif", serif' font-weight="bold" font-size="22" fill="#000">0.4</text>
<text x="555.08" y="969.2" font-family='"Liberation Serif", serif' font-weight="bold" font-size="22" fill="#000">0.6</text>
<text x="322.45" y="1032.45" font-family='"Liberation Serif", serif' font-weight="bold" font-size="22" fill="#000">-0.2</text>
<text x="329.78" y="861.35" font-family='"Liberation Serif", serif' font-weight="bold" font-size="22" fill="#000">0.2</text>
<text x="329.23" y="775.8" font-family='"Liberation Serif", serif' font-weight="bold" font-size="22" fill="#000">0.4</text>
<text x="329.45" y="690.25" font-family='"Liberation Serif", serif' font-weight="bold" font-size="22" fill="#000">0.6</text>
<text x="603.66" y="700.2" font-family='"Liberation Serif", serif' font-weight="bold" font-size="21" fill="#000">0</text>
<text x="603.32" y="734.9" font-family='"Liberation Serif", serif' font-weight="bold" font-size="21" fill="#000">1/2 IC<tspan font-size="15.5" dy="4.5">50</tspan></text>
<text x="603.77" y="774.9" font-family='"Liberation Serif", serif' font-weight="bold" font-size="21" fill="#000">IC<tspan font-size="15.5" dy="4.5">50</tspan></text>
<text x="603.56" y="809.2" font-family='"Liberation Serif", serif' font-weight="bold" font-size="21" fill="#000">2 IC<tspan font-size="15.5" dy="4.5">50</tspan></text>
<text x="412.94" y="1001.51" font-family='"Liberation Serif", serif' font-weight="bold" font-size="21.72" fill="#000">1/[Vonoprazan,μM]</text>
<text transform="translate(174.91 932.23) rotate(-90)" font-family='"Liberation Serif", serif' font-weight="bold" font-size="21.02" fill="#000">1/V(pmol/min/mg protein)</text>
<text transform="translate(92.99 697.5) scale(0.96 1)" font-family='"Liberation Sans", sans-serif' font-weight="bold" font-size="38" fill="#000">G</text>
<text x="1129.46" y="946.3" font-family='"Liberation Serif", serif' font-weight="bold" font-size="22.5" fill="#000">-0.6</text>
<text x="1196.99" y="946.3" font-family='"Liberation Serif", serif' font-weight="bold" font-size="22.5" fill="#000">-0.4</text>
<text x="1264.91" y="946.3" font-family='"Liberation Serif", serif' font-weight="bold" font-size="22.5" fill="#000">-0.2</text>
<text x="1403.93" y="946.3" font-family='"Liberation Serif", serif' font-weight="bold" font-size="22.5" fill="#000">0.2</text>
<text x="1471.29" y="946.3" font-family='"Liberation Serif", serif' font-weight="bold" font-size="22.5" fill="#000">0.4</text>
<text x="1539.05" y="946.3" font-family='"Liberation Serif", serif' font-weight="bold" font-size="22.5" fill="#000">0.6</text>
<text x="1304.02" y="1038.84" font-family='"Liberation Serif", serif' font-weight="bold" font-size="22.5" fill="#000">-0.4</text>
<text x="1304.58" y="981.02" font-family='"Liberation Serif", serif' font-weight="bold" font-size="22.5" fill="#000">-0.2</text>
<text x="1312.08" y="865.38" font-family='"Liberation Serif", serif' font-weight="bold" font-size="22.5" fill="#000">0.2</text>
<text x="1311.51" y="807.56" font-family='"Liberation Serif", serif' font-weight="bold" font-size="22.5" fill="#000">0.4</text>
<text x="1311.74" y="749.74" font-family='"Liberation Serif", serif' font-weight="bold" font-size="22.5" fill="#000">0.6</text>
<text x="1311.85" y="691.92" font-family='"Liberation Serif", serif' font-weight="bold" font-size="22.5" fill="#000">0.8</text>
<text x="1612.97" y="697.5" font-family='"Liberation Serif", serif' font-weight="bold" font-size="21" fill="#000">0</text>
<text x="1612.32" y="734.3" font-family='"Liberation Serif", serif' font-weight="bold" font-size="21" fill="#000">1/2 IC<tspan font-size="15.5" dy="4.2">50</tspan></text>
<text x="1613.07" y="776.1" font-family='"Liberation Serif", serif' font-weight="bold" font-size="21" fill="#000">IC<tspan font-size="15.5" dy="4.2">50</tspan></text>
<text x="1612.86" y="816.6" font-family='"Liberation Serif", serif' font-weight="bold" font-size="21" fill="#000">2 IC<tspan font-size="15.5" dy="4.2">50</tspan></text>
<text x="1384.86" y="978.32" font-family='"Liberation Serif", serif' font-weight="bold" font-size="21.91" fill="#000">1/[Vonoprazan,μM]</text>
<text transform="translate(1153.54 901.12) rotate(-90)" font-family='"Liberation Serif", serif' font-weight="bold" font-size="21.05" fill="#000">1/V(pmol/min/mg protein)</text>
<text transform="translate(1063.75 695.11) scale(0.95 1)" font-family='"Liberation Sans", sans-serif' font-weight="bold" font-size="38" fill="#000">H</text>
<text x="4.18" y="594" font-family='"Liberation Serif", serif' font-weight="bold" font-size="14.8" fill="#000">-20</text>
<text x="53.66" y="594" font-family='"Liberation Serif", serif' font-weight="bold" font-size="14.8" fill="#000">-10</text>
<text x="154.75" y="594" font-family='"Liberation Serif", serif' font-weight="bold" font-size="14.8" fill="#000">10</text>
<text x="204.52" y="594" font-family='"Liberation Serif", serif' font-weight="bold" font-size="14.8" fill="#000">20</text>
<text x="254.04" y="594" font-family='"Liberation Serif", serif' font-weight="bold" font-size="14.8" fill="#000">30</text>
<text x="303.71" y="594" font-family='"Liberation Serif", serif' font-weight="bold" font-size="14.8" fill="#000">40</text>
<text x="81.29" y="609.74" font-family='"Liberation Serif", serif' font-weight="bold" font-size="14.8" fill="#000">-0.5</text>
<text x="86.22" y="543.67" font-family='"Liberation Serif", serif' font-weight="bold" font-size="14.8" fill="#000">0.5</text>
<text x="86.22" y="510.63" font-family='"Liberation Serif", serif' font-weight="bold" font-size="14.8" fill="#000">1.0</text>
<text x="86.22" y="477.6" font-family='"Liberation Serif", serif' font-weight="bold" font-size="14.8" fill="#000">1.5</text>
<text x="86.22" y="444.56" font-family='"Liberation Serif", serif' font-weight="bold" font-size="14.8" fill="#000">2.0</text>
<text x="86.22" y="411.53" font-family='"Liberation Serif", serif' font-weight="bold" font-size="14.8" fill="#000">2.5</text>
<text transform="translate(18.87 558.92) rotate(-90)" font-family='"Liberation Serif", serif' font-weight="bold" font-size="16.31" fill="#000">Slope of Primary Plot</text>
<text x="245.43" y="419.12" font-family='"Liberation Serif", serif' font-weight="normal" font-size="16.67" fill="#000">KI=7.37</text>
<text x="104.26" y="640.4" font-family='"Liberation Serif", serif' font-weight="bold" font-size="16.18" fill="#000">Amlodipine(uM)</text>
<text transform="translate(4.69 389.5) scale(0.93 1)" font-family='"Liberation Sans", sans-serif' font-weight="bold" font-size="38" fill="#000">C</text>
<text x="481.88" y="597.4" font-family='"Liberation Serif", serif' font-weight="bold" font-size="15.4" fill="#000">-20</text>
<text x="530.51" y="597.4" font-family='"Liberation Serif", serif' font-weight="bold" font-size="15.4" fill="#000">-10</text>
<text x="629.98" y="597.4" font-family='"Liberation Serif", serif' font-weight="bold" font-size="15.4" fill="#000">10</text>
<text x="678.92" y="597.4" font-family='"Liberation Serif", serif' font-weight="bold" font-size="15.4" fill="#000">20</text>
<text x="727.59" y="597.4" font-family='"Liberation Serif", serif' font-weight="bold" font-size="15.4" fill="#000">30</text>
<text x="776.41" y="597.4" font-family='"Liberation Serif", serif' font-weight="bold" font-size="15.4" fill="#000">40</text>
<text x="556.99" y="619.54" font-family='"Liberation Serif", serif' font-weight="bold" font-size="15.4" fill="#000">-0.1</text>
<text x="562.12" y="541.86" font-family='"Liberation Serif", serif' font-weight="bold" font-size="15.4" fill="#000">0.1</text>
<text x="561.97" y="503.02" font-family='"Liberation Serif", serif' font-weight="bold" font-size="15.4" fill="#000">0.2</text>
<text x="561.81" y="464.18" font-family='"Liberation Serif", serif' font-weight="bold" font-size="15.4" fill="#000">0.3</text>
<text x="561.58" y="425.34" font-family='"Liberation Serif", serif' font-weight="bold" font-size="15.4" fill="#000">0.4</text>
<text transform="translate(477.42 576.45) rotate(-90)" font-family='"Liberation Serif", serif' font-weight="bold" font-size="16.1" fill="#000">Intercept of Primary Plot</text>
<text x="705.6" y="431.2" font-family='"Liberation Serif", serif' font-weight="normal" font-size="16.31" fill="#000">αKI=23.27</text>
<text x="580.93" y="646.7" font-family='"Liberation Serif", serif' font-weight="bold" font-size="15.94" fill="#000">Amlodipine(uM)</text>
<text x="433.43" y="389.92" font-family='"Liberation Sans", sans-serif' font-weight="bold" font-size="38" fill="#000">D</text>
<text x="962.1" y="587.5" font-family='"Liberation Serif", serif' font-weight="bold" font-size="15" fill="#000">-20</text>
<text x="1021.7" y="587.5" font-family='"Liberation Serif", serif' font-weight="bold" font-size="15" fill="#000">-10</text>
<text x="1143.06" y="587.5" font-family='"Liberation Serif", serif' font-weight="bold" font-size="15" fill="#000">10</text>
<text x="1202.96" y="587.5" font-family='"Liberation Serif", serif' font-weight="bold" font-size="15" fill="#000">20</text>
<text x="1262.6" y="587.5" font-family='"Liberation Serif", serif' font-weight="bold" font-size="15" fill="#000">30</text>
<text x="1059.35" y="603.14" font-family='"Liberation Serif", serif' font-weight="bold" font-size="15" fill="#000">-0.2</text>
<text x="1064.35" y="537.06" font-family='"Liberation Serif", serif' font-weight="bold" font-size="15" fill="#000">0.2</text>
<text x="1063.97" y="504.02" font-family='"Liberation Serif", serif' font-weight="bold" font-size="15" fill="#000">0.4</text>
<text x="1064.12" y="470.98" font-family='"Liberation Serif", serif' font-weight="bold" font-size="15" fill="#000">0.6</text>
<text x="1064.2" y="437.94" font-family='"Liberation Serif", serif' font-weight="bold" font-size="15" fill="#000">0.8</text>
<text x="1064.28" y="404.9" font-family='"Liberation Serif", serif' font-weight="bold" font-size="15" fill="#000">1.0</text>
<text transform="translate(978.99 550.38) rotate(-90)" font-family='"Liberation Serif", serif' font-weight="bold" font-size="16.43" fill="#000">Slope of Primary Plot</text>
<text x="1203.82" y="412.9" font-family='"Liberation Serif", serif' font-weight="normal" font-size="16.55" fill="#000">KI=5.17</text>
<text x="1063.78" y="634.43" font-family='"Liberation Serif", serif' font-weight="bold" font-size="16.36" fill="#000">Nifedipine (μM)</text>
<text transform="translate(921.5 413.72) scale(0.97 1)" font-family='"Liberation Sans", sans-serif' font-weight="bold" font-size="38" fill="#000">E</text>
<text x="1441.87" y="595" font-family='"Liberation Serif", serif' font-weight="bold" font-size="15.5" fill="#000">-20</text>
<text x="1503.47" y="595" font-family='"Liberation Serif", serif' font-weight="bold" font-size="15.5" fill="#000">-10</text>
<text x="1628.9" y="595" font-family='"Liberation Serif", serif' font-weight="bold" font-size="15.5" fill="#000">10</text>
<text x="1690.81" y="595" font-family='"Liberation Serif", serif' font-weight="bold" font-size="15.5" fill="#000">20</text>
<text x="1752.45" y="595" font-family='"Liberation Serif", serif' font-weight="bold" font-size="15.5" fill="#000">30</text>
<text x="1540.02" y="491.85" font-family='"Liberation Serif", serif' font-weight="bold" font-size="15.5" fill="#000">0.05</text>
<text x="1540.02" y="406.2" font-family='"Liberation Serif", serif' font-weight="bold" font-size="15.5" fill="#000">0.10</text>
<text transform="translate(1437.47 576.31) rotate(-90)" font-family='"Liberation Serif", serif' font-weight="bold" font-size="17.03" fill="#000">Intercept of Primary Plot</text>
<text x="1678.51" y="412.15" font-family='"Liberation Serif", serif' font-weight="normal" font-size="17.19" fill="#000">αKI=29.09</text>
<text x="1547.41" y="647.23" font-family='"Liberation Serif", serif' font-weight="bold" font-size="17.12" fill="#000">Nifedipine (μM)</text>
<text transform="translate(1379.9 413.31) scale(0.93 1)" font-family='"Liberation Sans", sans-serif' font-weight="bold" font-size="38" fill="#000">F</text>
<text x="2.09" y="1245" font-family='"Liberation Serif", serif' font-weight="bold" font-size="16" fill="#000">-20</text>
<text x="78.26" y="1245" font-family='"Liberation Serif", serif' font-weight="bold" font-size="16" fill="#000">-10</text>
<text x="232.91" y="1245" font-family='"Liberation Serif", serif' font-weight="bold" font-size="16" fill="#000">10</text>
<text x="309.41" y="1245" font-family='"Liberation Serif", serif' font-weight="bold" font-size="16" fill="#000">20</text>
<text x="131.61" y="1259.55" font-family='"Liberation Serif", serif' font-weight="bold" font-size="16" fill="#000">-0.2</text>
<text x="136.94" y="1193.65" font-family='"Liberation Serif", serif' font-weight="bold" font-size="16" fill="#000">0.2</text>
<text x="136.54" y="1160.7" font-family='"Liberation Serif", serif' font-weight="bold" font-size="16" fill="#000">0.4</text>
<text x="136.7" y="1127.75" font-family='"Liberation Serif", serif' font-weight="bold" font-size="16" fill="#000">0.6</text>
<text x="136.78" y="1094.8" font-family='"Liberation Serif", serif' font-weight="bold" font-size="16" fill="#000">0.8</text>
<text x="136.86" y="1061.85" font-family='"Liberation Serif", serif' font-weight="bold" font-size="16" fill="#000">1.0</text>
<text transform="translate(38.88 1204) rotate(-90)" font-family='"Liberation Serif", serif' font-weight="bold" font-size="16.26" fill="#000">Slope of Primary Plot</text>
<text x="258.66" y="1068.64" font-family='"Liberation Serif", serif' font-weight="normal" font-size="16.19" fill="#000">KI=6.63</text>
<text x="212.37" y="1269.57" font-family='"Liberation Serif", serif' font-weight="bold" font-size="16.46" fill="#000">Nifedipine(μM)</text>
<text transform="translate(19.65 1046.31) scale(0.95 1)" font-family='"Liberation Sans", sans-serif' font-weight="bold" font-size="38" fill="#000">I</text>
<text x="438.89" y="1246.3" font-family='"Liberation Serif", serif' font-weight="bold" font-size="17.8" fill="#000">-20</text>
<text x="522.51" y="1246.3" font-family='"Liberation Serif", serif' font-weight="bold" font-size="17.8" fill="#000">-10</text>
<text x="692.32" y="1246.3" font-family='"Liberation Serif", serif' font-weight="bold" font-size="17.8" fill="#000">10</text>
<text x="776.31" y="1246.3" font-family='"Liberation Serif", serif' font-weight="bold" font-size="17.8" fill="#000">20</text>
<text x="572.75" y="1268.62" font-family='"Liberation Serif", serif' font-weight="bold" font-size="17.8" fill="#000">-0.05</text>
<text x="578.67" y="1184.58" font-family='"Liberation Serif", serif' font-weight="bold" font-size="17.8" fill="#000">0.05</text>
<text x="578.67" y="1142.56" font-family='"Liberation Serif", serif' font-weight="bold" font-size="17.8" fill="#000">0.10</text>
<text x="578.67" y="1100.54" font-family='"Liberation Serif", serif' font-weight="bold" font-size="17.8" fill="#000">0.15</text>
<text x="578.67" y="1058.52" font-family='"Liberation Serif", serif' font-weight="bold" font-size="17.8" fill="#000">0.20</text>
<text transform="translate(458.24 1218.02) rotate(-90)" font-family='"Liberation Serif", serif' font-weight="bold" font-size="16.35" fill="#000">Intercept of Primary Plot</text>
<text x="708.85" y="1063.59" font-family='"Liberation Serif", serif' font-weight="normal" font-size="17.77" fill="#000">αKI=12.19</text>
<text x="669.81" y="1274.04" font-family='"Liberation Serif", serif' font-weight="bold" font-size="17.64" fill="#000">Nifedipine(μM)</text>
<text x="415.43" y="1046.62" font-family='"Liberation Sans", sans-serif' font-weight="bold" font-size="38" fill="#000">J</text>
<text x="965.14" y="1245.8" font-family='"Liberation Serif", serif' font-weight="bold" font-size="17.2" fill="#000">-20</text>
<text x="1045.84" y="1245.8" font-family='"Liberation Serif", serif' font-weight="bold" font-size="17.2" fill="#000">-10</text>
<text x="1209.71" y="1245.8" font-family='"Liberation Serif", serif' font-weight="bold" font-size="17.2" fill="#000">10</text>
<text x="1290.76" y="1245.8" font-family='"Liberation Serif", serif' font-weight="bold" font-size="17.2" fill="#000">20</text>
<text x="1102.66" y="1261.16" font-family='"Liberation Serif", serif' font-weight="bold" font-size="17.2" fill="#000">-0.2</text>
<text x="1108.39" y="1192.64" font-family='"Liberation Serif", serif' font-weight="bold" font-size="17.2" fill="#000">0.2</text>
<text x="1107.96" y="1158.38" font-family='"Liberation Serif", serif' font-weight="bold" font-size="17.2" fill="#000">0.4</text>
<text x="1108.13" y="1124.12" font-family='"Liberation Serif", serif' font-weight="bold" font-size="17.2" fill="#000">0.6</text>
<text x="1108.22" y="1089.86" font-family='"Liberation Serif", serif' font-weight="bold" font-size="17.2" fill="#000">0.8</text>
<text x="1108.3" y="1055.6" font-family='"Liberation Serif", serif' font-weight="bold" font-size="17.2" fill="#000">1.0</text>
<text transform="translate(1004.5 1203.36) rotate(-90)" font-family='"Liberation Serif", serif' font-weight="bold" font-size="17.08" fill="#000">Slope of Primary Plot</text>
<text x="1234.88" y="1045.89" font-family='"Liberation Serif", serif' font-weight="bold" font-size="17.04" fill="#000">KI=7.57</text>
<text x="1195.89" y="1271.18" font-family='"Liberation Serif", serif' font-weight="bold" font-size="17.24" fill="#000">Nifedipine(μM)</text>
<text x="943.23" y="1046.21" font-family='"Liberation Sans", sans-serif' font-weight="bold" font-size="38" fill="#000">K</text>
<text x="1439.09" y="1245" font-family='"Liberation Serif", serif' font-weight="bold" font-size="16.9" fill="#000">-20</text>
<text x="1517.11" y="1245" font-family='"Liberation Serif", serif' font-weight="bold" font-size="16.9" fill="#000">-10</text>
<text x="1675.59" y="1245" font-family='"Liberation Serif", serif' font-weight="bold" font-size="16.9" fill="#000">10</text>
<text x="1753.96" y="1245" font-family='"Liberation Serif", serif' font-weight="bold" font-size="16.9" fill="#000">20</text>
<text x="1562.99" y="1265.94" font-family='"Liberation Serif", serif' font-weight="bold" font-size="16.9" fill="#000">-0.05</text>
<text x="1568.62" y="1187.46" font-family='"Liberation Serif", serif' font-weight="bold" font-size="16.9" fill="#000">0.05</text>
<text x="1568.62" y="1148.22" font-family='"Liberation Serif", serif' font-weight="bold" font-size="16.9" fill="#000">0.10</text>
<text x="1568.62" y="1108.98" font-family='"Liberation Serif", serif' font-weight="bold" font-size="16.9" fill="#000">0.15</text>
<text x="1568.62" y="1069.74" font-family='"Liberation Serif", serif' font-weight="bold" font-size="16.9" fill="#000">0.20</text>
<text transform="translate(1483.93 1218.24) rotate(-90)" font-family='"Liberation Serif", serif' font-weight="bold" font-size="16.47" fill="#000">Intercept of Primary Plot</text>
<text x="1682.11" y="1075.41" font-family='"Liberation Serif", serif' font-weight="normal" font-size="16.53" fill="#000">αKI=13.25</text>
<text x="1645.77" y="1272.33" font-family='"Liberation Serif", serif' font-weight="bold" font-size="16.46" fill="#000">Nifedipine(μM)</text>
<text transform="translate(1418.73 1046.72) scale(0.96 1)" font-family='"Liberation Sans", sans-serif' font-weight="bold" font-size="38" fill="#000">L</text>
</svg>
</body></html>
